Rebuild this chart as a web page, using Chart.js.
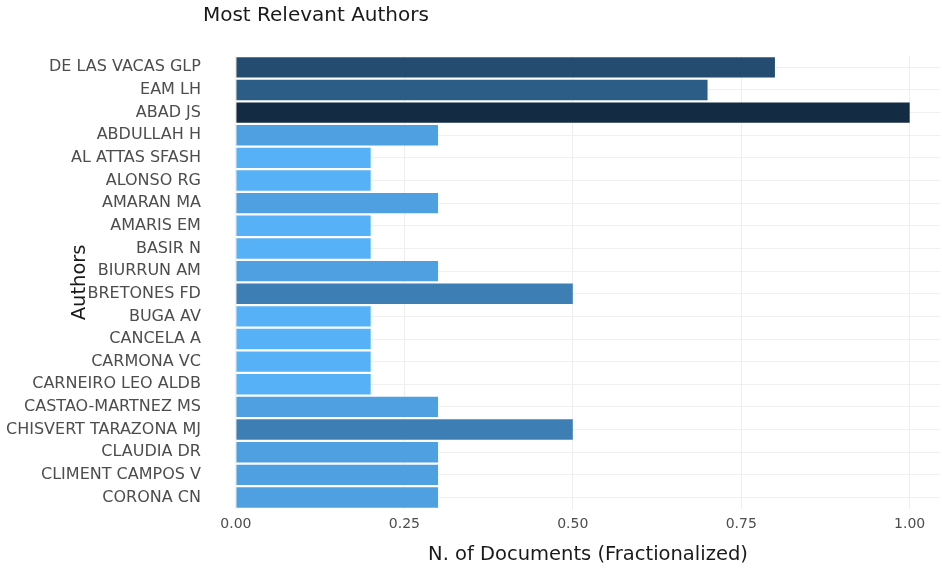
<!DOCTYPE html>
<html>
<head>
<meta charset="utf-8">
<script src="https://cdn.jsdelivr.net/npm/chart.js@4.4.0/dist/chart.umd.min.js"></script>
<style>
  html, body { margin: 0; padding: 0; background: #fff; }
  #wrap { width: 942px; height: 569px; }
</style>
</head>
<body>
<div id="wrap"><canvas id="barChart"></canvas></div>
<script>
const authors = ['DE LAS VACAS GLP', 'EAM LH', 'ABAD JS', 'ABDULLAH H', 'AL ATTAS SFASH', 'ALONSO RG',
  'AMARAN MA', 'AMARIS EM', 'BASIR N', 'BIURRUN AM', 'BRETONES FD', 'BUGA AV', 'CANCELA A',
  'CARMONA VC', 'CARNEIRO LEO ALDB', 'CASTAO-MARTNEZ MS', 'CHISVERT TARAZONA MJ', 'CLAUDIA DR',
  'CLIMENT CAMPOS V', 'CORONA CN'];
const documents = [0.8, 0.7, 1.0, 0.3, 0.2, 0.2, 0.3, 0.2, 0.2, 0.3, 0.5, 0.2, 0.2, 0.2, 0.2, 0.3, 0.5, 0.3, 0.3, 0.3];
const xTicks = [0, 0.25, 0.5, 0.75, 1.0];

// ggplot-style gradient: light blue (low) -> dark navy (high)
const low = [86, 177, 247];
const high = [19, 43, 67];
const vMin = Math.min(...documents);
const vMax = Math.max(...documents);
function shade(v) {
  const t = (v - vMin) / (vMax - vMin);
  const c = low.map((l, i) => Math.round(l + (high[i] - l) * t));
  return 'rgb(' + c.join(',') + ')';
}

const textFont = 'DejaVu Sans, Verdana, sans-serif';

const sideLabels = {
  id: 'sideLabels',
  afterDraw(chart) {
    const { ctx, chartArea } = chart;
    ctx.save();
    ctx.fillStyle = '#1a1a1a';
    ctx.font = '20px ' + textFont;
    ctx.textBaseline = 'middle';
    ctx.textAlign = 'left';
    ctx.fillText('Most Relevant Authors', chartArea.left - 33, 16);
    ctx.font = '19.5px ' + textFont;
    ctx.translate(chartArea.left - 156, (chartArea.top + chartArea.bottom) / 2);
    ctx.rotate(-Math.PI / 2);
    ctx.textAlign = 'center';
    ctx.fillText('Authors', 0, 0);
    ctx.restore();
  }
};

new Chart(document.getElementById('barChart').getContext('2d'), {
  type: 'bar',
  data: {
    labels: authors,
    datasets: [{
      label: 'N. of Documents',
      data: documents,
      backgroundColor: documents.map(shade),
      barPercentage: 0.9,
      categoryPercentage: 1.0,
      borderWidth: 0
    }]
  },
  options: {
    indexAxis: 'y',
    responsive: true,
    maintainAspectRatio: false,
    animation: false,
    layout: { padding: { top: 56, right: 2, bottom: 2, left: 0 } },
    plugins: {
      legend: { display: false },
      tooltip: { enabled: false }
    },
    scales: {
      x: {
        min: 0,
        max: 1.045,
        border: { display: false },
        afterBuildTicks(axis) {
          axis.ticks = xTicks.map(v => ({ value: v }));
        },
        ticks: {
          color: '#4d4d4d',
          font: { family: textFont, size: 14 },
          padding: 7,
          maxRotation: 0,
          autoSkip: false,
          callback: v => v.toFixed(2)
        },
        grid: {
          drawTicks: false,
          color: '#eeeeee',
          lineWidth: 1
        },
        title: {
          display: true,
          text: 'N. of Documents (Fractionalized)',
          color: '#1a1a1a',
          font: { family: textFont, size: 19.5 },
          padding: { top: 4, bottom: 0 }
        }
      },
      y: {
        border: { display: false },
        afterFit(axis) {
          // drop the padding chart.js adds on the outer side of the labels
          axis.width -= 29;
        },
        ticks: {
          color: '#4d4d4d',
          font: { family: textFont, size: 16 },
          padding: 35,
          autoSkip: false
        },
        grid: {
          offset: false,
          drawTicks: false,
          color: '#f0f0f0'
        }
      }
    }
  },
  plugins: [sideLabels]
});
</script>
</body>
</html>
